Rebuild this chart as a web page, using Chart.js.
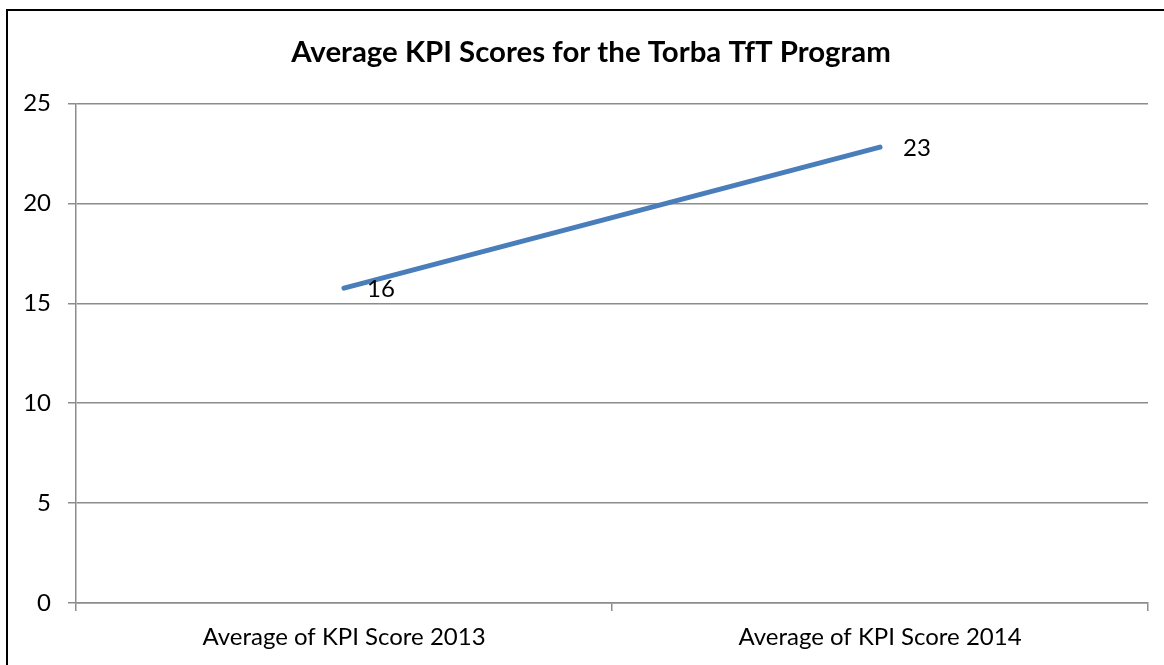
<!DOCTYPE html>
<html>
<head>
<meta charset="utf-8">
<script src="https://cdn.jsdelivr.net/npm/chart.js@4/dist/chart.umd.min.js"></script>
<style>
    html, body { margin: 0; padding: 0; background: #fff; }
    #frame {
        position: absolute; left: 6px; top: 9px;
        width: 1200px; height: 700px;
        border: 2px solid #000;
    }
    #wrap { position: absolute; left: 0; top: 0; width: 1164px; height: 665px; }
</style>
</head>
<body>
<div id="frame"></div>
<div id="wrap"><canvas id="kpiChart" width="1164" height="665"></canvas></div>
<script>
// Chart data
const categories = ['Average of KPI Score 2013', 'Average of KPI Score 2014'];
const kpiScores = [15.76, 22.82];
const yTicks = [0, 5, 10, 15, 20, 25];
const chartTitle = 'Average KPI Scores for the Torba TfT Program';

const FONT = 'Lato, "Open Sans", sans-serif';
const GRID = '#8c8c8c';

// Title is centred on the original (wider) chart frame, not the canvas
const frameTitle = {
    id: 'frameTitle',
    afterDraw(chart) {
        const ctx = chart.ctx;
        ctx.save();
        ctx.font = 'bold 29.4px ' + FONT;
        ctx.fillStyle = '#000';
        ctx.textAlign = 'center';
        ctx.textBaseline = 'alphabetic';
        ctx.fillText(chartTitle, 591, 62);
        ctx.restore();
    }
};

// Value labels to the right of each point
const valueLabels = {
    id: 'valueLabels',
    afterDatasetsDraw(chart) {
        const ctx = chart.ctx;
        const meta = chart.getDatasetMeta(0);
        ctx.save();
        ctx.font = '24px ' + FONT;
        ctx.fillStyle = '#000';
        ctx.textAlign = 'left';
        ctx.textBaseline = 'middle';
        meta.data.forEach((pt, i) => {
            ctx.fillText(String(Math.round(kpiScores[i])), pt.x + 23, pt.y + 1);
        });
        ctx.restore();
    }
};

new Chart(document.getElementById('kpiChart'), {
    type: 'line',
    data: {
        labels: categories,
        datasets: [{
            data: kpiScores,
            borderColor: '#4a7ebb',
            borderWidth: 5,
            borderCapStyle: 'round',
            pointRadius: 0,
            pointHoverRadius: 0,
            tension: 0
        }]
    },
    options: {
        responsive: false,
        animation: false,
        events: [],
        layout: { padding: { left: 0, right: 16, top: 103.5, bottom: 0 } },
        plugins: {
            legend: { display: false },
            tooltip: { enabled: false },
            title: { display: false }
        },
        scales: {
            x: {
                offset: true,
                grid: {
                    offset: true,
                    drawOnChartArea: false,
                    tickLength: 8,
                    color: GRID,
                    lineWidth: 1.5
                },
                border: { color: GRID, width: 1.5 },
                ticks: {
                    color: '#000',
                    font: { family: FONT, size: 24 },
                    padding: 12,
                    maxRotation: 0
                },
                afterFit(scale) { scale.height = 62; }
            },
            y: {
                min: 0,
                max: 25,
                afterBuildTicks(scale) {
                    scale.ticks = yTicks.map(v => ({ value: v }));
                },
                grid: {
                    tickLength: 8,
                    color: GRID,
                    lineWidth: 1.5
                },
                border: { color: GRID, width: 1.5 },
                ticks: {
                    color: '#000',
                    font: { family: FONT, size: 24 },
                    padding: 17
                },
                afterFit(scale) { scale.width = 76; }
            }
        }
    },
    plugins: [valueLabels, frameTitle]
});
</script>
</body>
</html>
